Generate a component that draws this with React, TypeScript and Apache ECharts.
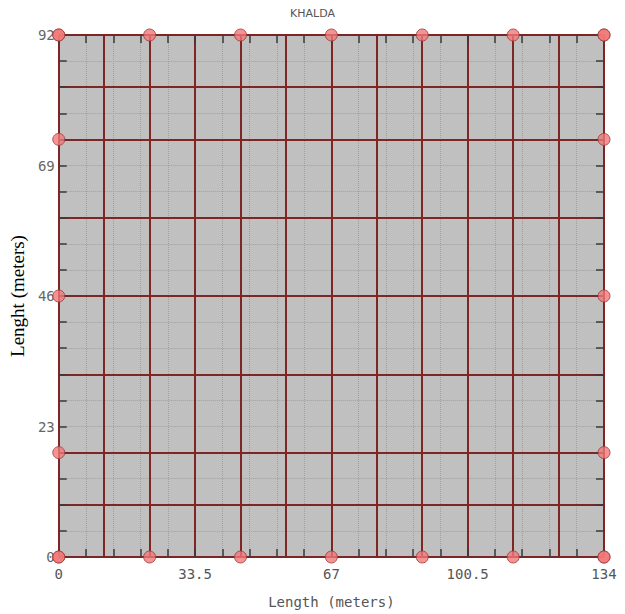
import React, { useEffect, useRef } from 'react';
import * as echarts from 'echarts';

const chartTitle = 'KHALDA';
const xName = 'Length (meters)';
const yName = 'Lenght (meters)';
const xRange = [0, 134];
const xInterval = 33.5;
const yRange = [0, 92];
const yInterval = 23;
const verticalLines = [0, 11.17, 22.33, 33.5, 44.67, 55.83, 67, 78.17, 89.33, 100.5, 111.67, 122.83, 134];
const horizontalLines = [0, 9.2, 18.4, 32.2, 46, 59.8, 73.6, 82.8, 92];
const edgeMarkersX = [0, 22.33, 44.67, 67, 89.33, 111.67, 134];
const edgeMarkersY = [0, 18.4, 46, 73.6, 92];

const tickStyle = { color: '#3a3a3a', width: 1.5 };
const dotStyle = { color: '#a0a0a0', type: 'dotted' as const, width: 1 };
const monoFont = 'DejaVu Sans Mono';

function axisX(position: 'top' | 'bottom', labels: boolean) {
  return {
    type: 'value',
    show: true,
    position,
    z: 5,
    min: xRange[0],
    max: xRange[1],
    interval: xInterval,
    axisLine: { show: false, onZero: false },
    axisTick: { show: true, inside: true, length: 8, lineStyle: tickStyle },
    minorTick: { show: true, splitNumber: 5, length: 8, lineStyle: tickStyle },
    splitLine: { show: labels, lineStyle: dotStyle },
    minorSplitLine: { show: labels, lineStyle: dotStyle },
    axisLabel: {
      show: labels,
      margin: 10,
      fontFamily: monoFont,
      fontSize: 14,
      color: '#555',
    },
    name: labels ? xName : '',
    nameLocation: 'middle',
    nameGap: 38,
    nameTextStyle: { fontFamily: monoFont, fontSize: 14, color: '#555' },
  };
}

function axisY(position: 'left' | 'right', labels: boolean) {
  return {
    type: 'value',
    show: true,
    position,
    z: 5,
    min: yRange[0],
    max: yRange[1],
    interval: yInterval,
    axisLine: { show: false, onZero: false },
    axisTick: { show: true, inside: true, length: 8, lineStyle: tickStyle },
    minorTick: { show: true, splitNumber: 5, length: 8, lineStyle: tickStyle },
    splitLine: { show: labels, lineStyle: dotStyle },
    minorSplitLine: { show: labels, lineStyle: dotStyle },
    axisLabel: {
      show: labels,
      margin: 4,
      fontFamily: monoFont,
      fontSize: 14,
      color: '#666',
    },
    name: labels ? yName : '',
    nameLocation: 'middle',
    nameGap: 30,
    nameTextStyle: { fontFamily: 'Liberation Serif', fontSize: 19, color: '#000' },
  };
}

export default function App() {
  const ref = useRef<HTMLDivElement>(null);
  useEffect(() => {
    document.body.style.margin = '0';
    if (!ref.current) return;
    const chart = echarts.init(ref.current, null, { renderer: 'svg' });
    const markers: number[][] = [];
    edgeMarkersX.forEach((x) => {
      markers.push([x, yRange[0]]);
      markers.push([x, yRange[1]]);
    });
    edgeMarkersY.forEach((y) => {
      markers.push([xRange[0], y]);
      markers.push([xRange[1], y]);
    });
    const lineData = [
      ...verticalLines.map((v) => ({ xAxis: v })),
      ...horizontalLines.map((v) => ({ yAxis: v })),
    ];
    chart.setOption({
      animation: false,
      title: {
        text: chartTitle,
        left: 'center',
        top: 3,
        textStyle: { fontFamily: 'DejaVu Sans', fontSize: 11, fontWeight: 'normal', color: '#555' },
      },
      grid: {
        left: 57,
        right: 21,
        top: 35,
        bottom: 54,
        show: true,
        backgroundColor: '#c0c0c0',
        borderWidth: 0,
      },
      xAxis: [axisX('bottom', true), axisX('top', false)],
      yAxis: [axisY('left', true), axisY('right', false)],
      series: [
        {
          type: 'line',
          data: [],
          z: 3,
          markLine: {
            silent: true,
            symbol: ['none', 'none'],
            label: { show: false },
            data: lineData,
            lineStyle: { color: '#7e2626', width: 2, type: 'solid' },
          },
        },
        {
          type: 'line',
          data: [],
          xAxisIndex: 1,
          yAxisIndex: 1,
        },
        {
          type: 'scatter',
          data: markers,
          z: 6,
          clip: false,
          symbol: 'circle',
          symbolSize: 12,
          itemStyle: { color: '#f07878', borderColor: '#a03838', borderWidth: 1 },
        },
      ],
    });
    return () => chart.dispose();
  }, []);
  return <div ref={ref} style={{ width: 625, height: 614 }} />;
}
